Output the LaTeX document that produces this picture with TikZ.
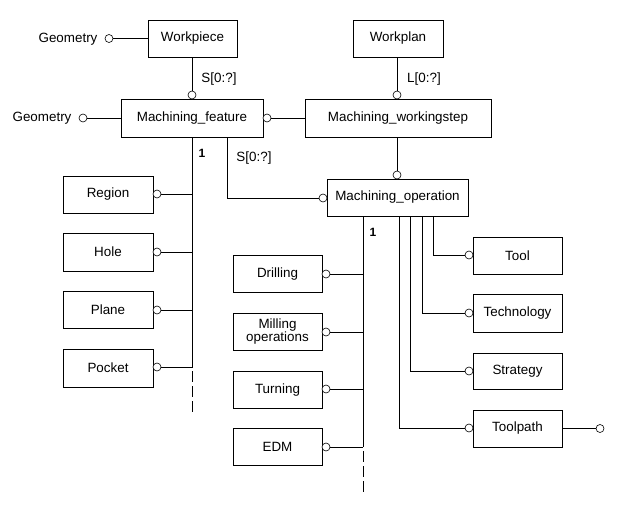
\documentclass[tikz,border=0pt]{standalone}
\usepackage{fontspec}
\setmainfont{Liberation Sans}
\begin{document}
\begin{tikzpicture}[x=1pt,y=-1pt]
\tikzset{
  box/.style={draw, line width=0.9pt, minimum height=37pt, inner sep=0pt, font=\fontsize{13.4}{14.5}\selectfont, align=center},
  ring/.style={draw, circle, minimum size=8pt, inner sep=0pt, line width=0.6pt, fill=white},
  conn/.style={line width=0.9pt},
  dconn/.style={line width=0.9pt, dash pattern=on 11pt off 4pt, dash phase=11pt},
  lbl/.style={font=\fontsize{13.4}{14.5}\selectfont, inner sep=0pt},
  one/.style={font=\fontsize{12}{14}\selectfont\bfseries, inner sep=0pt}
}
\useasboundingbox (0,0) rectangle (617,508);
% top row
\node[box, minimum width=89pt] (wp) at (192.5,38.5) {Workpiece};
\node[box, minimum width=90pt] (wpl) at (398,38.5) {Workplan};
\node[lbl] (g1) at (68,39) {Geometry};
\node[ring] (g1r) at (109,38.5) {};
\draw[conn] (g1r.east) -- (wp.west);
% second row
\node[box, minimum width=142pt, minimum height=38pt] (mf) at (192,118) {Machining\_feature};
\node[box, minimum width=186pt, minimum height=38pt] (mws) at (398,118) {Machining\_workingstep};
\node[lbl] (g2) at (42,118) {Geometry};
\node[ring] (g2r) at (83,118) {};
\draw[conn] (g2r.east) -- (mf.west);
\node[ring] (mft) at (192,95) {};
\draw[conn] (mft.north) -- (mft.north |- wp.south);
\node[lbl] (s1) at (219,79) {S[0:?]};
\node[ring] (mwst) at (397,95) {};
\draw[conn] (mwst.north) -- (mwst.north |- wpl.south);
\node[lbl] (l1) at (424,79) {L[0:?]};
\node[ring] (mfr) at (267,118) {};
\draw[conn] (mfr.east) -- (mws.west);
% machining operation
\node[box, minimum width=141pt] (mo) at (397.5,197.5) {Machining\_operation};
\node[ring] (mot) at (397,175) {};
\draw[conn] (mot.north) -- (mot.north |- mws.south);
\node[ring] (mol) at (323,198) {};
\coordinate (mfb) at (227,137);
\draw[conn] (mfb) |- (mol.west);
\node[lbl] (s2) at (254,158) {S[0:?]};
% features
\node[box, minimum width=90pt] (reg) at (108,194.5) {Region};
\node[box, minimum width=90pt, minimum height=38pt] (hole) at (108,252) {Hole};
\node[box, minimum width=90pt] (plane) at (108,309.5) {Plane};
\node[box, minimum width=90pt, minimum height=38pt] (pocket) at (108,368) {Pocket};
\node[ring] (regr) at (157,194) {};
\node[ring] (holer) at (157,252) {};
\node[ring] (planer) at (157,310) {};
\node[ring] (pocketr) at (157,367) {};
\coordinate (ft) at (192.5,137);
\coordinate (fe) at (192.5,412);
\draw[conn] (ft) -- (ft |- pocketr);
\draw[dconn] (ft |- pocketr) -- (fe);
\foreach \r in {regr,holer,planer,pocketr}{\draw[conn] (\r.east) -- (\r.east -| ft);}
\node[one] (one1) at (202,153) {1};
% operations
\node[box, minimum width=89pt] (dri) at (277.5,274) {Drilling};
\node[box, minimum width=89pt] (mil) at (277.5,331.5) {Milling\\[-2pt]operations};
\node[box, minimum width=89pt] (tur) at (277.5,390) {Turning};
\node[box, minimum width=89pt] (edm) at (277.5,447) {EDM};
\node[ring] (drir) at (326,274) {};
\node[ring] (milr) at (326,332) {};
\node[ring] (turr) at (326,389) {};
\node[ring] (edmr) at (326,447) {};
\coordinate (ot) at (363,216);
\coordinate (oe) at (363,493);
\draw[conn] (ot) -- (ot |- edmr);
\draw[dconn] (ot |- edmr) -- (oe);
\foreach \r in {drir,milr,turr,edmr}{\draw[conn] (\r.east) -- (\r.east -| ot);}
\node[one] (one2) at (373,232) {1};
% attributes
\node[box, minimum width=89pt] (tool) at (517.5,255.5) {Tool};
\node[box, minimum width=89pt, minimum height=38pt] (tech) at (517.5,313) {Technology};
\node[box, minimum width=89pt, minimum height=36pt] (strat) at (517.5,371) {Strategy};
\node[box, minimum width=89pt] (tp) at (517.5,428.5) {Toolpath};
\node[ring] (toolr) at (469,255) {};
\node[ring] (techr) at (469,313) {};
\node[ring] (stratr) at (469,371) {};
\node[ring] (tpr) at (469,428) {};
\coordinate (b1) at (433,216);
\coordinate (b2) at (422,216);
\coordinate (b3) at (410,216);
\coordinate (b4) at (399,216);
\draw[conn] (b1) |- (toolr.west);
\draw[conn] (b2) |- (techr.west);
\draw[conn] (b3) |- (stratr.west);
\draw[conn] (b4) |- (tpr.west);
\node[ring] (tpe) at (600,428.5) {};
\draw[conn] (tp.east) -- (tpe.west);
\end{tikzpicture}
\end{document}
